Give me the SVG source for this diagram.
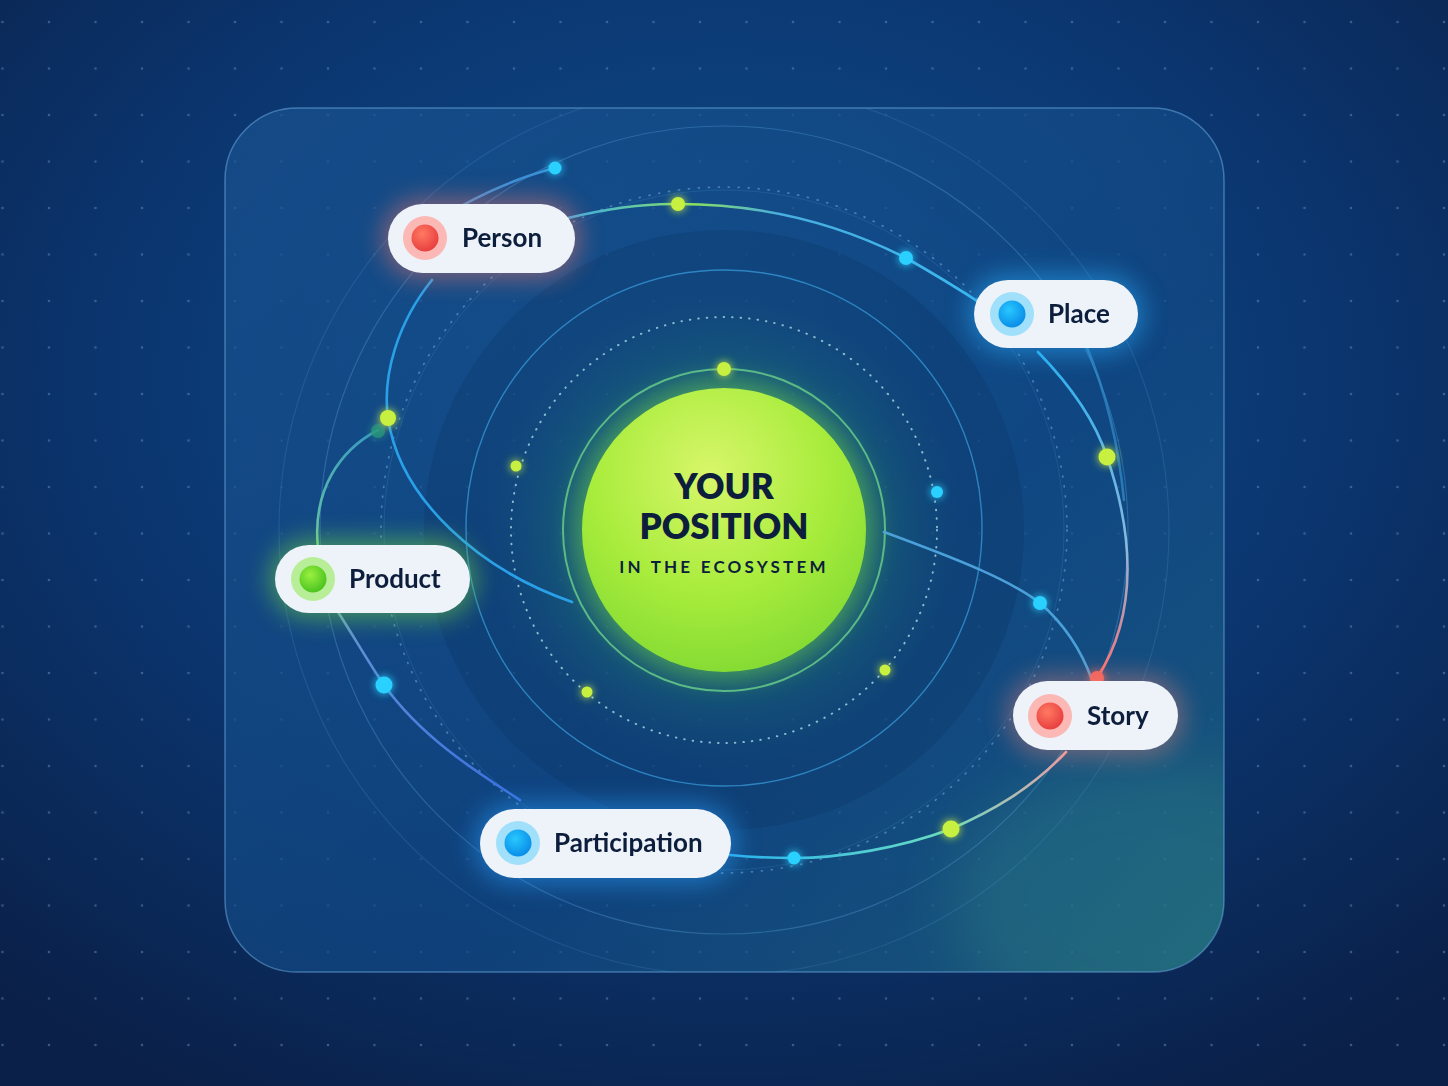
<svg xmlns="http://www.w3.org/2000/svg" width="1448" height="1086" viewBox="0 0 1448 1086">
<defs>
  <radialGradient id="bg" cx="50%" cy="35%" r="75%">
    <stop offset="0" stop-color="#0f4f8c"/>
    <stop offset="0.55" stop-color="#0b3670"/>
    <stop offset="1" stop-color="#0a2048"/>
  </radialGradient>
  <linearGradient id="card" x1="0" y1="0" x2="1" y2="1">
    <stop offset="0" stop-color="#2a6fb0" stop-opacity="0.30"/>
    <stop offset="0.6" stop-color="#1a5e9c" stop-opacity="0.25"/>
    <stop offset="1" stop-color="#2f8a8a" stop-opacity="0.45"/>
  </linearGradient>
  <clipPath id="cardClip">
    <rect x="225" y="108" width="999" height="864" rx="72"/>
  </clipPath>
  <radialGradient id="centerGlow" cx="50%" cy="50%" r="50%">
    <stop offset="0" stop-color="#48c860" stop-opacity="0.55"/>
    <stop offset="0.55" stop-color="#2a9a70" stop-opacity="0.35"/>
    <stop offset="1" stop-color="#1a6a80" stop-opacity="0"/>
  </radialGradient>
  <radialGradient id="core" cx="45%" cy="30%" r="70%">
    <stop offset="0" stop-color="#d8f66a"/>
    <stop offset="0.6" stop-color="#a8ec3c"/>
    <stop offset="1" stop-color="#86dc34"/>
  </radialGradient>
  <radialGradient id="redDot" cx="40%" cy="35%" r="65%">
    <stop offset="0" stop-color="#ff7a62"/>
    <stop offset="1" stop-color="#e84040"/>
  </radialGradient>
  <radialGradient id="blueDot" cx="40%" cy="35%" r="65%">
    <stop offset="0" stop-color="#28c8ff"/>
    <stop offset="1" stop-color="#0a8ee8"/>
  </radialGradient>
  <radialGradient id="greenDot" cx="40%" cy="35%" r="65%">
    <stop offset="0" stop-color="#9af040"/>
    <stop offset="1" stop-color="#4cc420"/>
  </radialGradient>
  <linearGradient id="gTop" x1="570" y1="0" x2="985" y2="0" gradientUnits="userSpaceOnUse">
    <stop offset="0" stop-color="#3ab0e8"/>
    <stop offset="0.3" stop-color="#8ae060"/>
    <stop offset="0.5" stop-color="#4aaee0"/>
    <stop offset="1" stop-color="#3ab8f0"/>
  </linearGradient>
  <linearGradient id="gRight" x1="0" y1="350" x2="0" y2="680" gradientUnits="userSpaceOnUse">
    <stop offset="0" stop-color="#2ab0f0"/>
    <stop offset="0.6" stop-color="#8ab8e0"/>
    <stop offset="1" stop-color="#ff7070"/>
  </linearGradient>
  <linearGradient id="gBottom" x1="1065" y1="0" x2="730" y2="0" gradientUnits="userSpaceOnUse">
    <stop offset="0" stop-color="#e8a0a8"/>
    <stop offset="0.35" stop-color="#6adcc0"/>
    <stop offset="1" stop-color="#2ab4f0"/>
  </linearGradient>
  <linearGradient id="gLeft" x1="0" y1="600" x2="0" y2="800" gradientUnits="userSpaceOnUse">
    <stop offset="0" stop-color="#6a9ad0"/>
    <stop offset="1" stop-color="#3a70e0"/>
  </linearGradient>
  <linearGradient id="gProd" x1="0" y1="430" x2="0" y2="545" gradientUnits="userSpaceOnUse">
    <stop offset="0" stop-color="#3a9ac0"/>
    <stop offset="1" stop-color="#6ac8a0"/>
  </linearGradient>
  <pattern id="dots" x="49" y="22" width="46.5" height="46.5" patternUnits="userSpaceOnUse">
    <circle cx="0" cy="0" r="1.3" fill="#5a86b8" opacity="0.55"/>
    <circle cx="46.5" cy="0" r="1.3" fill="#5a86b8" opacity="0.55"/>
    <circle cx="0" cy="46.5" r="1.3" fill="#5a86b8" opacity="0.55"/>
    <circle cx="46.5" cy="46.5" r="1.3" fill="#5a86b8" opacity="0.55"/>
  </pattern>
  <filter id="glow" x="-50%" y="-50%" width="200%" height="200%">
    <feGaussianBlur stdDeviation="4" result="b"/>
    <feMerge><feMergeNode in="b"/><feMergeNode in="SourceGraphic"/></feMerge>
  </filter>
  <filter id="soft" x="-50%" y="-50%" width="200%" height="200%">
    <feGaussianBlur stdDeviation="12"/>
  </filter>
  <filter id="big" x="-50%" y="-50%" width="200%" height="200%">
    <feGaussianBlur stdDeviation="30"/>
  </filter>
  <style>
    .pill { fill: #eef3fa; }
    .label { font-family: Lato, "Liberation Sans", sans-serif; font-weight: 700; font-size: 26px; fill: #0c1e3c; }
    .title { font-family: Lato, "Liberation Sans", sans-serif; font-weight: 800; font-size: 35px; fill: #0c1e3c; }
    .conn { fill: none; stroke-width: 2.6; stroke-linecap: round; }
    .ring { fill: none; }
  </style>
</defs>

<rect width="1448" height="1086" fill="url(#bg)"/>
<rect width="1448" height="1086" fill="url(#dots)"/>

<g id="card-panel">
  <rect x="225" y="108" width="999" height="864" rx="72" fill="#0d3e78" opacity="0.55"/>
  <rect x="225" y="108" width="999" height="864" rx="72" fill="url(#card)"/>
  <g clip-path="url(#cardClip)">
    <ellipse cx="1150" cy="900" rx="200" ry="140" fill="#3a9a8a" opacity="0.25" filter="url(#big)"/>
  </g>
  <rect x="225" y="108" width="999" height="864" rx="72" fill="none" stroke="#6aa8dc" stroke-opacity="0.55" stroke-width="1.5"/>
</g>

<g id="rings">
  <g clip-path="url(#cardClip)">
    <circle cx="724" cy="530" r="445" class="ring" stroke="#4a8ac8" stroke-opacity="0.25" stroke-width="1.2"/>
    <circle cx="724" cy="530" r="404" class="ring" stroke="#5aa0d8" stroke-opacity="0.35" stroke-width="1.2"/>
  </g>
  <circle cx="724" cy="530" r="343" class="ring" stroke="#7ab0e0" stroke-opacity="0.5" stroke-width="1.8" stroke-dasharray="1 9" stroke-linecap="round"/>
  <circle cx="724" cy="530" r="340" class="ring" stroke="#4a90d0" stroke-opacity="0.22" stroke-width="1"/>
  <circle cx="724" cy="530" r="300" fill="#0a2e5a" opacity="0.25"/>
  <circle cx="724" cy="528" r="258" class="ring" stroke="#3aa0e0" stroke-opacity="0.7" stroke-width="1.4"/>
  <circle cx="724" cy="530" r="240" fill="url(#centerGlow)"/>
  <circle cx="724" cy="530" r="213" class="ring" stroke="#a8d8e8" stroke-opacity="0.8" stroke-width="2" stroke-dasharray="0.5 8" stroke-linecap="round"/>
  <circle cx="724" cy="530" r="161" class="ring" stroke="#6ad090" stroke-opacity="0.8" stroke-width="2"/>
</g>

<g id="connectors">
  <path class="conn" d="M440 218 Q500 182 555 168" stroke="#3a90d8" stroke-width="2.2"/>
  <path class="conn" d="M568 218 Q630 203 678 204 Q800 204 906 258 Q945 280 985 306" stroke="url(#gTop)"/>
  <path class="conn" d="M432 280 C398 322 382 375 388 418 C400 500 480 570 572 602" stroke="#2aa0e8"/>
  <path class="conn" d="M318 548 C312 490 340 450 378 430" stroke="url(#gProd)" stroke-width="2.2"/>
  <path class="conn" d="M338 612 C356 640 370 665 384 685 C420 735 470 768 520 800" stroke="url(#gLeft)" stroke-width="3.2"/>
  <path class="conn" d="M1038 352 C1070 385 1095 420 1107 457 C1132 530 1140 612 1097 678" stroke="url(#gRight)"/>
  <path class="conn" d="M1086 345 C1105 390 1118 440 1124 500" stroke="#3a9ad8" stroke-opacity="0.6" stroke-width="1.6"/>
  <path class="conn" d="M884 532 C960 560 1010 580 1040 603 C1064 624 1082 652 1092 680" stroke="#4aa0d8" stroke-width="2"/>
  <path class="conn" d="M1066 752 C1030 790 990 812 951 829 C900 848 840 858 794 858 C770 858 750 857 730 855" stroke="url(#gBottom)"/>
</g>

<g id="center">
  <circle cx="724" cy="530" r="150" fill="#7ae040" opacity="0.45" filter="url(#soft)"/>
  <circle cx="724" cy="530" r="142" fill="url(#core)"/>
  <text x="724" y="499" text-anchor="middle" class="title">YOUR</text>
  <text x="724" y="539" text-anchor="middle" class="title">POSITION</text>
  <text x="724" y="573" text-anchor="middle" font-family="Lato, 'Liberation Sans', sans-serif" font-weight="700" font-size="17" letter-spacing="3.2" fill="#0c1e3c">IN THE ECOSYSTEM</text>
</g>

<g id="small-dots" filter="url(#glow)">
  <circle cx="724" cy="369" r="7" fill="#c8f040"/>
  <circle cx="516" cy="466" r="5.5" fill="#c8f040"/>
  <circle cx="937" cy="492" r="6" fill="#2ad0ff"/>
  <circle cx="587" cy="692" r="5.5" fill="#c8f040"/>
  <circle cx="885" cy="670" r="5.5" fill="#c8f040"/>
  <circle cx="555" cy="168" r="6.5" fill="#2ad0ff"/>
  <circle cx="678" cy="204" r="7" fill="#c8f040"/>
  <circle cx="906" cy="258" r="7" fill="#2ad0ff"/>
  <circle cx="378" cy="431" r="7" fill="#2a9a7a" opacity="0.7"/>
  <circle cx="388" cy="418" r="8" fill="#c8f040"/>
  <circle cx="1107" cy="457" r="8.5" fill="#c8f040"/>
  <circle cx="1040" cy="603" r="7" fill="#2ad0ff"/>
  <circle cx="1097" cy="678" r="7" fill="#f0605a"/>
  <circle cx="951" cy="829" r="8.5" fill="#c8f040"/>
  <circle cx="794" cy="858" r="6.5" fill="#2ad0ff"/>
  <circle cx="384" cy="685" r="8.5" fill="#2ad0ff"/>
</g>

<g id="node-person">
  <rect x="382" y="198" width="199" height="81" rx="40" fill="#ff7a6a" opacity="0.45" filter="url(#soft)"/>
  <rect x="388" y="204" width="187" height="69" rx="34.5" class="pill"/>
  <circle cx="425" cy="238" r="22" fill="#fbb8b4"/>
  <circle cx="425" cy="238" r="13.5" fill="url(#redDot)"/>
  <text x="462" y="247" class="label">Person</text>
</g>

<g id="node-place">
  <rect x="968" y="274" width="176" height="80" rx="40" fill="#2ab0ff" opacity="0.5" filter="url(#soft)"/>
  <rect x="974" y="280" width="164" height="68" rx="34" class="pill"/>
  <circle cx="1012" cy="314" r="22" fill="#a0e0fa"/>
  <circle cx="1012" cy="314" r="13.5" fill="url(#blueDot)"/>
  <text x="1048" y="323" class="label">Place</text>
</g>

<g id="node-product">
  <rect x="269" y="539" width="207" height="80" rx="40" fill="#7ae040" opacity="0.5" filter="url(#soft)"/>
  <rect x="275" y="545" width="195" height="68" rx="34" class="pill"/>
  <circle cx="313" cy="579" r="22" fill="#b8ee98"/>
  <circle cx="313" cy="579" r="13.5" fill="url(#greenDot)"/>
  <text x="349" y="588" class="label">Product</text>
</g>

<g id="node-story">
  <rect x="1007" y="675" width="177" height="81" rx="40" fill="#ff8a7a" opacity="0.4" filter="url(#soft)"/>
  <rect x="1013" y="681" width="165" height="69" rx="34.5" class="pill"/>
  <circle cx="1050" cy="716" r="22" fill="#fbb8b4"/>
  <circle cx="1050" cy="716" r="13.5" fill="url(#redDot)"/>
  <text x="1087" y="725" class="label">Story</text>
</g>

<g id="node-participation">
  <rect x="474" y="803" width="263" height="81" rx="40" fill="#2aa0ff" opacity="0.5" filter="url(#soft)"/>
  <rect x="480" y="809" width="251" height="69" rx="34.5" class="pill"/>
  <circle cx="518" cy="843" r="22" fill="#a0e0fa"/>
  <circle cx="518" cy="843" r="13.5" fill="url(#blueDot)"/>
  <text x="554" y="852" class="label">Participation</text>
</g>
</svg>
